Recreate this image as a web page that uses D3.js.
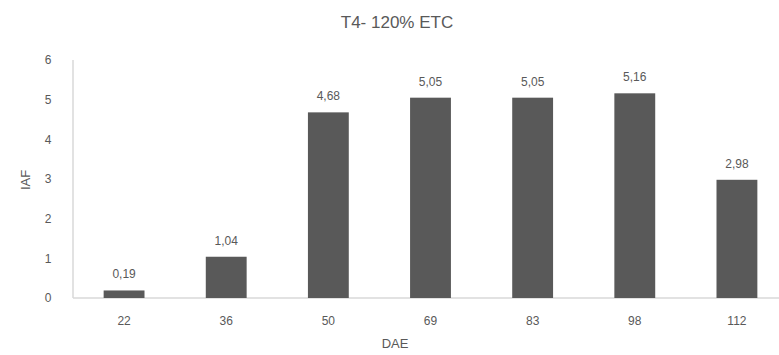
<!DOCTYPE html>
<html><head><meta charset="utf-8">
<script src="https://cdn.jsdelivr.net/npm/d3@7"></script>
<style>body{margin:0;background:#fff}svg{display:block}</style>
</head><body>
<script>
const categories = ["22","36","50","69","83","98","112"];
const values = [0.19, 1.04, 4.68, 5.05, 5.05, 5.16, 2.98];
const labels = ["0,19","1,04","4,68","5,05","5,05","5,16","2,98"];
const yTicks = [0,1,2,3,4,5,6];
const title = "T4- 120% ETC";
const xTitle = "DAE";
const yTitle = "IAF";

const W = 779, H = 355;
const svg = d3.select("body").append("svg").attr("width", W).attr("height", H);
const font = "'Liberation Sans', Arial, sans-serif";
const col = "#595959";

const x = d3.scaleBand().domain(categories).range([73, 788]).paddingInner(0.6).paddingOuter(0.3);
const y = d3.scaleLinear().domain([0, 6]).range([298, 60]);

svg.append("text").attr("x", 397).attr("y", 28).attr("text-anchor", "middle")
  .attr("font-family", font).attr("font-size", 17).attr("fill", col).text(title);

svg.append("line").attr("x1", 73).attr("x2", 73).attr("y1", y(6)).attr("y2", y(0)).attr("stroke", "#d9d9d9").attr("stroke-width", 1.5);
svg.append("line").attr("x1", 73).attr("x2", W).attr("y1", y(0)).attr("y2", y(0)).attr("stroke", "#d9d9d9").attr("stroke-width", 1.5);

const yAxis = d3.axisLeft(y).tickValues(yTicks).tickSize(0).tickPadding(0).tickFormat(d3.format("d"));
const gy = svg.append("g").attr("transform", "translate(48,0)").call(yAxis);
gy.select(".domain").remove();
gy.selectAll("text").attr("font-family", font).attr("font-size", 12).attr("fill", col).attr("text-anchor", "middle");

const xAxis = d3.axisBottom(x).tickSize(0).tickPadding(0);
const gx = svg.append("g").attr("transform", "translate(0,316)").call(xAxis);
gx.select(".domain").remove();
gx.selectAll("text").attr("font-family", font).attr("font-size", 12).attr("fill", col);

svg.selectAll("rect.bar").data(values).join("rect").attr("class", "bar")
  .attr("x", (d, i) => x(categories[i])).attr("width", x.bandwidth())
  .attr("y", d => y(d)).attr("height", d => y(0) - y(d)).attr("fill", col);

svg.selectAll("text.lbl").data(values).join("text").attr("class", "lbl")
  .attr("x", (d, i) => x(categories[i]) + x.bandwidth() / 2).attr("y", d => y(d) - 12)
  .attr("text-anchor", "middle").attr("font-family", font).attr("font-size", 12).attr("fill", col)
  .text((d, i) => labels[i]);

svg.append("text").attr("x", 395).attr("y", 348).attr("text-anchor", "middle")
  .attr("font-family", font).attr("font-size", 13).attr("fill", col).text(xTitle);
svg.append("text").attr("transform", "translate(30,180) rotate(-90)").attr("text-anchor", "middle")
  .attr("font-family", font).attr("font-size", 13).attr("fill", col).text(yTitle);
</script>
</body></html>
